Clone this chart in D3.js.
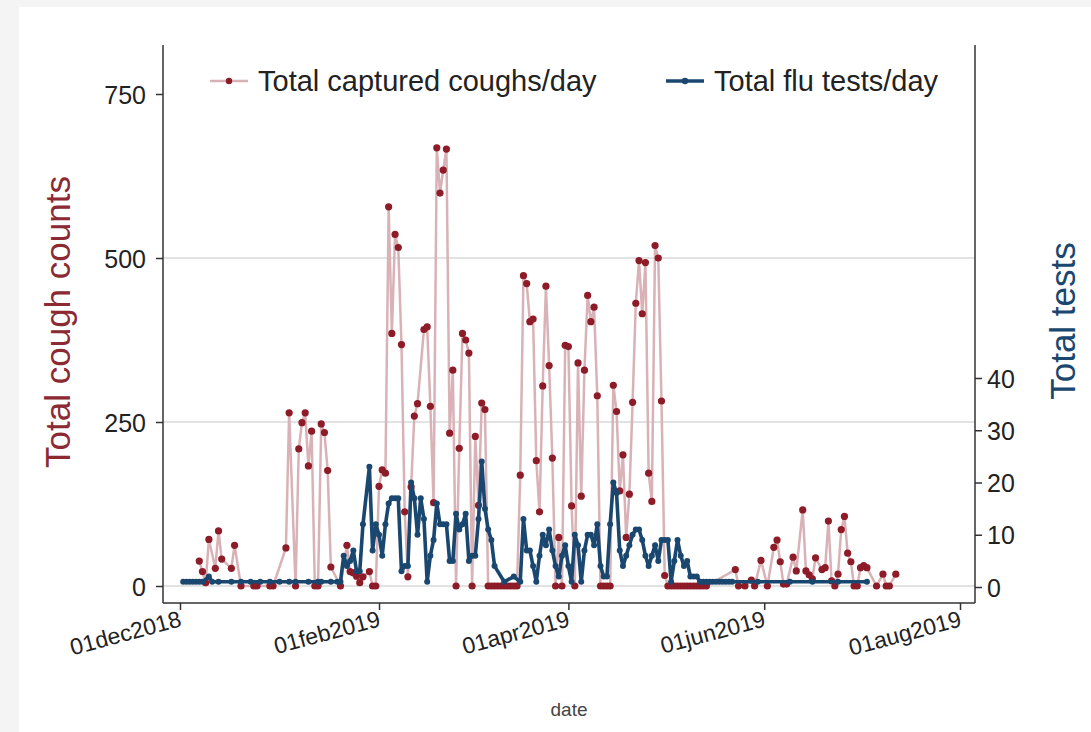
<!DOCTYPE html>
<html>
<head>
<meta charset="utf-8">
<script src="https://cdn.jsdelivr.net/npm/d3@7/dist/d3.min.js"></script>
<style>
  body { margin: 0; background: #f4f4f4; }
  text { font-family: "Liberation Sans", Arial, sans-serif; }
</style>
</head>
<body>
<div id="chart"></div>
<script>
// days counted from 01dec2018
const startDate = new Date(2018, 11, 1);

const coughDay = [6, 7, 8, 9, 11, 12, 13, 16, 17, 19, 23, 24, 28, 29, 33, 34, 36, 37, 38, 39, 40, 41, 42, 43, 44, 45, 46, 47, 50,
  52, 53, 54, 55, 56, 57, 59, 60, 61, 62, 63, 64, 65, 66, 67, 68, 69, 70, 71, 72, 73, 74, 76, 77, 78, 79, 80, 81, 82, 83, 84, 85,
  86, 87, 88, 89, 90, 91, 92, 93, 94, 95, 96, 97, 98, 99, 100, 101, 102, 103, 104, 105, 106, 107, 108, 109, 110, 111, 112, 113,
  114, 115, 116, 117, 118, 119, 120, 121, 122, 123, 124, 125, 126, 127, 128, 129, 130, 131, 132, 133, 134, 135, 136, 137, 138,
  139, 140, 141, 142, 143, 144, 145, 146, 147, 148, 149, 150, 151, 152, 153, 154, 155, 156, 157, 158, 159, 160, 161, 162, 163,
  164, 173, 174, 176, 178, 179, 181, 183, 185, 186, 187, 188, 189, 191, 192, 194, 195, 196, 197, 198, 200, 201, 202, 203, 204,
  205, 206, 207, 208, 209, 210, 211, 212, 213, 214, 217, 219, 220, 221, 223];
const coughCount = [38, 22, 5, 71, 27, 84, 41, 27, 62, 0, 0, 0, 0, 0, 58, 264, 0, 209, 249, 264, 183, 236, 0, 0, 247, 234, 176, 29, 0,
  62, 22, 20, 15, 5, 14, 22, 0, 0, 152, 177, 172, 578, 385, 536, 516, 368, 113, 14, 151, 259, 278, 391, 395, 274, 127, 668, 599, 634, 666, 233, 329,
  0, 210, 385, 375, 355, 0, 228, 123, 279, 269, 0, 0, 0, 0, 0, 0, 0, 0, 0, 0, 169, 473, 461, 403, 407, 191, 113, 305,
  457, 336, 195, 0, 74, 0, 367, 365, 122, 0, 340, 137, 329, 443, 403, 425, 290, 0, 0, 0, 0, 306, 266, 145, 200,
  74, 140, 280, 431, 496, 415, 493, 172, 129, 519, 500, 282, 16, 0, 0, 0, 0, 0, 0, 0, 0, 0, 0, 0, 0,
  0, 25, 0, 0, 9, 0, 39, 0, 59, 70, 37, 3, 3, 44, 23, 116, 23, 17, 11, 43, 25, 28, 99, 8, 0,
  18, 86, 106, 50, 37, 0, 0, 28, 31, 28, 0, 18, 0, 0, 18];

const fluDay = [1, 2, 3, 4, 5, 6, 7, 9, 10, 12, 16, 19, 22, 25, 28, 31, 34, 36, 40, 43, 44, 47, 49, 50, 51, 52, 53, 54, 55, 56, 57,
  59, 60, 61, 62, 63, 64, 65, 66, 67, 68, 69, 70, 71, 72, 73, 74, 75, 76, 77, 78, 79, 80, 81, 82, 83, 84, 85, 86, 87, 88, 89,
  90, 91, 92, 93, 94, 95, 96, 97, 98, 101, 104, 106, 107, 108, 109, 110, 111, 112, 113, 114, 115, 116, 117, 118, 119, 120, 121,
  122, 123, 124, 125, 126, 127, 128, 129, 130, 131, 132, 133, 134, 135, 136, 137, 138, 139, 140, 141, 142, 143, 144, 145, 146,
  147, 148, 149, 150, 151, 152, 153, 154, 155, 156, 157, 158, 159, 160, 161, 162, 163, 164, 165, 166, 167, 168, 169, 170, 171,
  172, 180, 190, 197, 205, 214];
const fluTests = [1, 1, 1, 1, 1, 1, 1, 2, 1, 1, 1, 1, 1, 1, 1, 1, 1, 1, 1, 1, 1, 1, 1, 1, 6, 4, 5, 7, 3, 3, 12,
  23, 7, 12, 10, 6, 12, 16, 17, 17, 17, 3, 4, 4, 20, 17, 10, 17, 13, 1, 6, 9, 16, 12, 12, 12, 5, 5, 14, 11, 12, 14,
  5, 6, 6, 13, 24, 15, 11, 9, 4, 1, 2, 1, 13, 7, 7, 4, 1, 6, 10, 8, 11, 7, 4, 2, 6, 8, 4,
  1, 10, 8, 1, 7, 10, 10, 8, 12, 4, 2, 2, 12, 20, 18, 7, 4, 6, 8, 10, 11, 11, 9, 6, 4,
  6, 8, 5, 9, 9, 9, 1, 5, 9, 6, 4, 5, 2, 2, 2, 1, 1, 1, 1, 1, 1, 1, 1, 1, 1,
  1, 1, 1, 1, 1, 1];

const coughTicks = [0, 250, 500, 750];
const testTicks = [0, 10, 20, 30, 40];
const dateTicks = ["2018-12-01", "2019-02-01", "2019-04-01", "2019-06-01", "2019-08-01"];

const width = 1091;
const height = 732;
const frame = { left: 163, right: 975, top: 45, bottom: 603 };

const maroon = "#8c2a33";
const navy = "#1a476f";

const dayToDate = d => d3.timeDay.offset(startDate, d);
const parse = d3.timeParse("%Y-%m-%d");
const fmt = d => d3.timeFormat("%d%b%Y")(d).toLowerCase();

const x = d3.scaleTime()
  .domain([parse(dateTicks[0]), parse(dateTicks[dateTicks.length - 1])])
  .range([180, 960]);
const yL = d3.scaleLinear().domain([0, 750]).range([586, 94]);
const yR = d3.scaleLinear().domain([0, 40]).range([587, 378]);

const coughs = coughDay.map((d, i) => ({ date: dayToDate(d), v: coughCount[i] }));
const tests = fluDay.map((d, i) => ({ date: dayToDate(d), v: fluTests[i] }));

const svg = d3.select("#chart").append("svg")
  .attr("width", width)
  .attr("height", height);

svg.append("rect")
  .attr("x", 19).attr("y", 7)
  .attr("width", width - 19).attr("height", height - 7)
  .attr("fill", "#fff");

// gridlines
svg.append("g")
  .selectAll("line")
  .data(coughTicks.slice(0, 3))
  .enter().append("line")
    .attr("x1", frame.left).attr("x2", frame.right)
    .attr("y1", d => yL(d)).attr("y2", d => yL(d))
    .attr("stroke", "#d9d9d9")
    .attr("stroke-width", 1.5);

// left axis
const axL = svg.append("g")
  .attr("transform", `translate(${frame.left},0)`)
  .call(d3.axisLeft(yL).tickValues(coughTicks).tickSize(7).tickPadding(10));
axL.select(".domain").remove();
axL.append("line")
  .attr("y1", frame.top).attr("y2", frame.bottom)
  .attr("stroke", "#333").attr("stroke-width", 1.5);

// right axis
const axR = svg.append("g")
  .attr("transform", `translate(${frame.right},0)`)
  .call(d3.axisRight(yR).tickValues(testTicks).tickSize(7).tickPadding(5));
axR.select(".domain").remove();
axR.append("line")
  .attr("y1", frame.top).attr("y2", frame.bottom)
  .attr("stroke", "#333").attr("stroke-width", 1.5);

// bottom axis
const axB = svg.append("g")
  .attr("transform", `translate(0,${frame.bottom})`)
  .call(d3.axisBottom(x).tickValues(dateTicks.map(parse)).tickFormat(fmt).tickSize(7).tickPadding(4));
axB.select(".domain").remove();
axB.append("line")
  .attr("x1", frame.left).attr("x2", frame.right)
  .attr("stroke", "#333").attr("stroke-width", 1.5);
axB.selectAll(".tick text")
  .attr("text-anchor", "end")
  .attr("dy", null)
  .attr("y", 0)
  .attr("transform", "translate(2,23) rotate(-15)")
  .style("font-size", "23px");

[axL, axR, axB].forEach(ax => {
  ax.selectAll(".tick line").attr("stroke", "#333").attr("stroke-width", 1.5);
  ax.selectAll(".tick text").attr("fill", "#222");
});
axL.selectAll(".tick text").style("font-size", "25px").attr("dy", "0.36em");
axR.selectAll(".tick text").style("font-size", "25px").attr("dy", "0.36em");

// coughs
svg.append("path")
  .datum(coughs)
  .attr("fill", "none")
  .attr("stroke", "#d8b2b6")
  .attr("stroke-width", 2.5)
  .attr("d", d3.line().x(d => x(d.date)).y(d => yL(d.v)));
svg.append("g")
  .selectAll("circle")
  .data(coughs)
  .enter().append("circle")
    .attr("cx", d => x(d.date))
    .attr("cy", d => yL(d.v))
    .attr("r", 3.6)
    .attr("fill", "#8e1b28");

// flu tests
svg.append("path")
  .datum(tests)
  .attr("fill", "none")
  .attr("stroke", navy)
  .attr("stroke-width", 3.6)
  .attr("stroke-linejoin", "round")
  .attr("d", d3.line().x(d => x(d.date)).y(d => yR(d.v)));
svg.append("g")
  .selectAll("circle")
  .data(tests)
  .enter().append("circle")
    .attr("cx", d => x(d.date))
    .attr("cy", d => yR(d.v))
    .attr("r", 3)
    .attr("fill", navy);

// axis titles
svg.append("text")
  .text("Total cough counts")
  .attr("transform", "translate(70,322) rotate(-90)")
  .attr("text-anchor", "middle")
  .attr("fill", maroon)
  .style("font-size", "35px");
svg.append("text")
  .text("Total tests")
  .attr("transform", "translate(1075,321) rotate(-90)")
  .attr("text-anchor", "middle")
  .attr("fill", navy)
  .style("font-size", "35px");
svg.append("text")
  .text("date")
  .attr("x", 569).attr("y", 716)
  .attr("text-anchor", "middle")
  .attr("fill", "#444")
  .style("font-size", "19px");

// legend
const legend = svg.append("g");
legend.append("rect")
  .attr("x", 172).attr("y", 58)
  .attr("width", 795).attr("height", 46)
  .attr("fill", "#fff");
const items = [
  { label: "Total captured coughs/day", x0: 210, line: "#d8b2b6", dot: "#8e1b28", w: 2.5 },
  { label: "Total flu tests/day", x0: 666, line: navy, dot: navy, w: 3.6 }
];
items.forEach(it => {
  legend.append("line")
    .attr("x1", it.x0).attr("x2", it.x0 + 38)
    .attr("y1", 81).attr("y2", 81)
    .attr("stroke", it.line).attr("stroke-width", it.w);
  legend.append("circle")
    .attr("cx", it.x0 + 19).attr("cy", 81).attr("r", 3.2)
    .attr("fill", it.dot);
  legend.append("text")
    .text(it.label)
    .attr("x", it.x0 + 48).attr("y", 91)
    .attr("fill", "#222")
    .style("font-size", "29px");
});
</script>
</body>
</html>
